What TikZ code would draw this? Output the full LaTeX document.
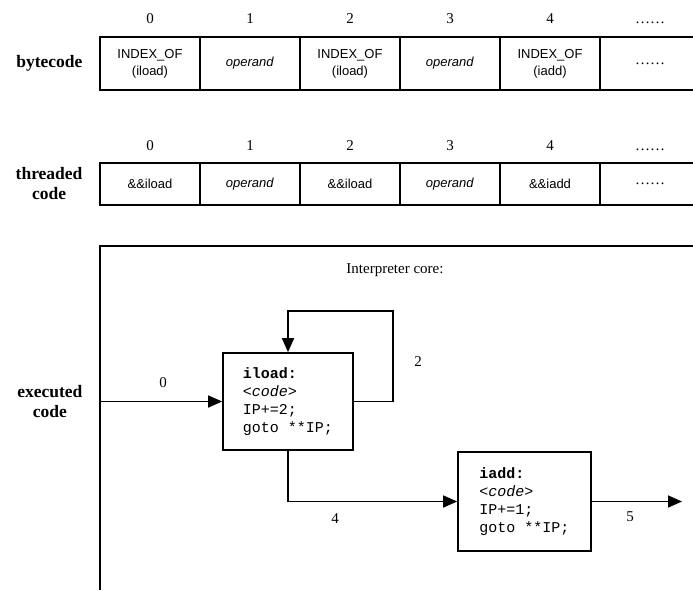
\documentclass[tikz,border=0pt]{standalone}
\usepackage{fontspec}
\setmainfont{Liberation Serif}
\setsansfont{Liberation Sans}
\setmonofont{Liberation Mono}
\usetikzlibrary{positioning, arrows.meta}

\tikzset{
  cell/.style={draw, line width=1.7pt, minimum width=100pt, inner sep=0pt, outer sep=0pt, align=center, font=\sffamily\fontsize{13}{17}\selectfont},
  bcell/.style={cell, minimum height=53pt},
  tcell/.style={cell, minimum height=42pt},
  idx/.style={font=\fontsize{15}{18}\selectfont},
  dots/.style={font=\rmfamily\fontsize{15}{18}\selectfont},
  rowlabel/.style={align=center, font=\bfseries\fontsize{17.5}{20}\selectfont},
  codebox/.style={draw, line width=1.7pt, align=left, font=\ttfamily\fontsize{15}{18}\selectfont},
  frame/.style={line width=1.7pt},
  flow/.style={line width=1.7pt, -{Triangle[length=14pt,width=12pt]}}
}

\begin{document}
\begin{tikzpicture}[x=1pt, y=-1pt]
\useasboundingbox (0,0) rectangle (693,590);

% bytecode
\node[bcell] (b0) at (150,63.5) {INDEX\_OF\\(iload)};
\node[bcell, right=0pt of b0] (b1) {\textit{operand}};
\node[bcell, right=0pt of b1] (b2) {INDEX\_OF\\(iload)};
\node[bcell, right=0pt of b2] (b3) {\textit{operand}};
\node[bcell, right=0pt of b3] (b4) {INDEX\_OF\\(iadd)};
\node[bcell, dots, right=0pt of b4] (b5) {\ldots\ldots};
\node[rowlabel, left=14pt of b0] (bytelabel) {bytecode};
\node[idx, above=10pt of b0] (bn0) {0};
\node[idx, above=10pt of b1] (bn1) {1};
\node[idx, above=10pt of b2] (bn2) {2};
\node[idx, above=10pt of b3] (bn3) {3};
\node[idx, above=10pt of b4] (bn4) {4};
\node[idx, above=10pt of b5] (bn5) {\ldots\ldots};

% threaded code
\node[tcell, below=73pt of b0] (t0) {\&\&iload};
\node[tcell, right=0pt of t0] (t1) {\textit{operand}};
\node[tcell, right=0pt of t1] (t2) {\&\&iload};
\node[tcell, right=0pt of t2] (t3) {\textit{operand}};
\node[tcell, right=0pt of t3] (t4) {\&\&iadd};
\node[tcell, dots, right=0pt of t4] (t5) {\ldots\ldots};
\node[rowlabel, left=14pt of t0] (threadlabel) {threaded\\code};
\node[idx, above=9pt of t0] (tn0) {0};
\node[idx, above=9pt of t1] (tn1) {1};
\node[idx, above=9pt of t2] (tn2) {2};
\node[idx, above=9pt of t3] (tn3) {3};
\node[idx, above=9pt of t4] (tn4) {4};
\node[idx, above=9pt of t5] (tn5) {\ldots\ldots};

% executed code
\draw[frame] (100,590) |- (693,246);
\coordinate (entry) at (100,401.5);
\node[rowlabel, left=14pt of entry] (execlabel) {executed\\code};
\node[idx] (core) at (395,270) {Interpreter core:};
\node[codebox, minimum width=130pt, minimum height=97pt] (iload) at (288,401.5)
  {\textbf{iload:}\\\textit{<code>}\\IP+=2;\\goto **IP;};
\node[codebox, minimum width=133pt, minimum height=99pt] (iadd) at (524.5,501.5)
  {\textbf{iadd:}\\\textit{<code>}\\IP+=1;\\goto **IP;};
\coordinate (loop) at (393,311);
\coordinate (exit) at (682,501.5);
\draw[flow] (entry) -- (iload.west);
\draw[flow] (iload.east) -| (loop) -| (iload.north);
\draw[flow] (iload.south) |- (iadd.west);
\draw[flow] (iadd.east) -- (exit);
\node[idx] (l0) at (163,383) {0};
\node[idx] (l2) at (418,362) {2};
\node[idx] (l4) at (335,519) {4};
\node[idx] (l5) at (630,517) {5};
\end{tikzpicture}
\end{document}
